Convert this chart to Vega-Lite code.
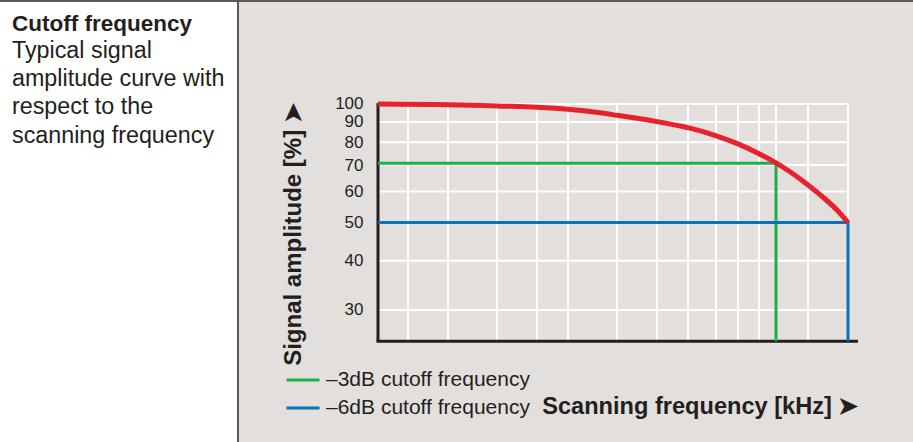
{
  "$schema": "https://vega.github.io/schema/vega-lite/v6.json",
  "width": 675,
  "height": 442,
  "autosize": {"type": "none"},
  "padding": {"left": 238, "top": 0, "right": 0, "bottom": 0},
  "background": "white",
  "config": {
    "font": "Liberation Sans",
    "view": {"fill": "#e3dfdd", "stroke": null}
  },
  "title": {
    "text": "Cutoff frequency",
    "subtitle": ["Typical signal", "amplitude curve with", "respect to the", "scanning frequency"],
    "anchor": "start",
    "frame": "group",
    "orient": "top",
    "offset": 0,
    "dx": -226,
    "dy": 149,
    "align": "left",
    "fontSize": 22.5,
    "fontWeight": "bold",
    "color": "#231f20",
    "subtitleFontSize": 23.3,
    "subtitleColor": "#231f20",
    "subtitleLineHeight": 28.4,
    "subtitlePadding": 4
  },
  "datasets": {
    "hgrid": [{"amp": 30}, {"amp": 40}, {"amp": 50}, {"amp": 60}, {"amp": 70}, {"amp": 80}, {"amp": 90}, {"amp": 100}],
    "vgrid": [{"freq": 3}, {"freq": 7}, {"freq": 11.9}, {"freq": 15.9}, {"freq": 19}, {"freq": 23.9}, {"freq": 27.9}, {"freq": 31}, {"freq": 33.8}, {"freq": 36}, {"freq": 38.1}, {"freq": 39.8}, {"freq": 43}, {"freq": 47}],
    "curve": [
      {"freq": 0, "amp": 100}, {"freq": 7, "amp": 99.6}, {"freq": 11.9, "amp": 98.8}, {"freq": 15.9, "amp": 98.1},
      {"freq": 19, "amp": 97}, {"freq": 22.2, "amp": 95}, {"freq": 23.9, "amp": 93.6}, {"freq": 27.9, "amp": 90.2},
      {"freq": 31.2, "amp": 86.8}, {"freq": 33.9, "amp": 82.9}, {"freq": 36, "amp": 79.2}, {"freq": 38, "amp": 75},
      {"freq": 39.8, "amp": 70.9}, {"freq": 41.2, "amp": 67.3}, {"freq": 43, "amp": 62.3}, {"freq": 44.5, "amp": 58},
      {"freq": 45.9, "amp": 53.8}, {"freq": 47, "amp": 50}
    ],
    "cutoff": [
      {"series": "–3dB cutoff frequency", "step": 1, "freq": 0, "amp": 70.7},
      {"series": "–3dB cutoff frequency", "step": 2, "freq": 39.8, "amp": 70.7},
      {"series": "–3dB cutoff frequency", "step": 3, "freq": 39.8, "amp": 25},
      {"series": "–6dB cutoff frequency", "step": 1, "freq": 0, "amp": 50},
      {"series": "–6dB cutoff frequency", "step": 2, "freq": 47, "amp": 50},
      {"series": "–6dB cutoff frequency", "step": 3, "freq": 47, "amp": 25}
    ]
  },
  "layer": [
    {
      "data": {"name": "hgrid"},
      "mark": {"type": "rule", "color": "white", "strokeWidth": 2},
      "encoding": {
        "y": {
          "field": "amp", "type": "quantitative",
          "scale": {"type": "log", "domain": [13.87, 183.6], "nice": false, "zero": false},
          "axis": {
            "orient": "left", "offset": -140, "domain": false, "ticks": false, "tickSize": 0, "grid": false,
            "values": [30, 40, 50, 60, 70, 80, 90, 100], "format": "d",
            "labelFontSize": 17, "labelColor": "#231f20", "labelPadding": 15,
            "title": "Signal amplitude [%] ➤", "titleFontSize": 24, "titleFontWeight": "bold", "titleColor": "#231f20",
            "titleX": -78, "titleY": 234, "titleBaseline": "alphabetic", "titleAlign": "center", "titleAngle": -90
          }
        },
        "x": {
          "datum": 0, "type": "quantitative",
          "scale": {"domain": [-14, 53.5], "nice": false, "zero": false},
          "axis": {
            "orient": "bottom", "offset": -100, "domain": false, "ticks": false, "labels": false, "grid": false,
            "title": "Scanning frequency [kHz] ➤", "titleFontSize": 23.6, "titleFontWeight": "bold", "titleColor": "#231f20",
            "titleX": 620, "titleY": 71, "titleAlign": "right", "titleBaseline": "alphabetic"
          }
        },
        "x2": {"datum": 47}
      }
    },
    {
      "data": {"name": "vgrid"},
      "mark": {"type": "rule", "color": "white", "strokeWidth": 2},
      "encoding": {
        "x": {"field": "freq", "type": "quantitative"},
        "y": {"datum": 25, "type": "quantitative"},
        "y2": {"datum": 100}
      }
    },
    {
      "data": {"values": [{}]},
      "mark": {"type": "rule", "color": "#231f20", "strokeWidth": 3},
      "encoding": {
        "x": {"datum": 0, "type": "quantitative"},
        "y": {"datum": 25, "type": "quantitative"},
        "y2": {"datum": 100.5}
      }
    },
    {
      "data": {"values": [{}]},
      "mark": {"type": "rule", "color": "#231f20", "strokeWidth": 3},
      "encoding": {
        "x": {"datum": -0.15, "type": "quantitative"},
        "x2": {"datum": 48},
        "y": {"datum": 25, "type": "quantitative"}
      }
    },
    {
      "data": {"name": "cutoff"},
      "mark": {"type": "line", "strokeWidth": 3},
      "encoding": {
        "x": {"field": "freq", "type": "quantitative"},
        "y": {"field": "amp", "type": "quantitative"},
        "order": {"field": "step"},
        "color": {
          "field": "series", "type": "nominal",
          "scale": {"domain": ["–3dB cutoff frequency", "–6dB cutoff frequency"], "range": ["#1db04b", "#0b72bc"]},
          "legend": {
            "orient": "none", "legendX": 47, "legendY": 362, "title": null, "padding": 0,
            "labelFontSize": 21, "labelColor": "#231f20", "labelOffset": 5, "labelLimit": 0,
            "symbolType": "stroke", "symbolSize": 1089, "symbolStrokeWidth": 3, "rowPadding": -8
          }
        }
      }
    },
    {
      "data": {"name": "curve"},
      "mark": {"type": "line", "color": "#e8222c", "strokeWidth": 5, "interpolate": "monotone"},
      "encoding": {
        "x": {"field": "freq", "type": "quantitative"},
        "y": {"field": "amp", "type": "quantitative"}
      }
    },
    {
      "data": {"values": [{}]},
      "mark": {"type": "rule", "color": "#5a5a5a", "strokeWidth": 2},
      "encoding": {
        "x": {"datum": -14, "type": "quantitative"},
        "y": {"datum": 13.87, "type": "quantitative"},
        "y2": {"datum": 183.6}
      }
    },
    {
      "data": {"values": [{}]},
      "mark": {"type": "rule", "color": "#5a5a5a", "strokeWidth": 4},
      "encoding": {
        "x": {"datum": -37.8, "type": "quantitative"},
        "x2": {"datum": 53.5},
        "y": {"datum": 183.6, "type": "quantitative"}
      }
    }
  ]
}
